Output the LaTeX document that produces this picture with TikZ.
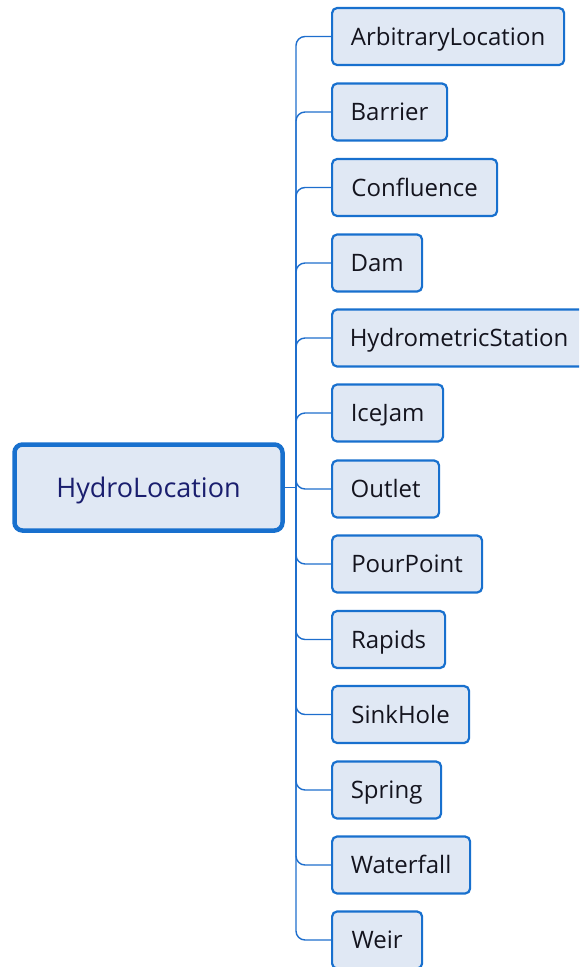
\documentclass[tikz,border=0pt]{standalone}
\usepackage{fontspec}
\setmainfont{Open Sans}
\definecolor{boxfill}{RGB}{224,232,244}
\definecolor{boxline}{RGB}{24,112,206}
\definecolor{linkline}{RGB}{30,110,205}
\definecolor{roottext}{RGB}{26,30,110}
\definecolor{leaftext}{RGB}{20,20,30}
\begin{document}
\begin{tikzpicture}[x=1pt,y=-1pt,
  rootbox/.style={draw=boxline, line width=4.5pt, fill=boxfill, rounded corners=8pt,
    minimum width=268pt, minimum height=86pt, inner sep=0pt,
    text height=19pt, text depth=0pt,
    font=\fontsize{27}{30}\selectfont, text=roottext},
  leafbox/.style={draw=boxline, line width=2.2pt, fill=boxfill, rounded corners=5pt,
    minimum height=57pt, inner sep=0pt, anchor=west,
    text height=17pt, text depth=0pt,
    font=\fontsize{24}{27}\selectfont, text=leaftext},
  link/.style={draw=linkline, line width=1.4pt, rounded corners=9pt}]
\useasboundingbox (0,0) rectangle (579,967);
\begin{scope}
\clip (0,0) rectangle (579,967);
\node[rootbox] (root) at (148.5,487.5) {HydroLocation};
\coordinate (hub) at (296,487.5);

\node[leafbox, minimum width=232pt] (n1)  at (331,36.5)  {ArbitraryLocation};
\node[leafbox, minimum width=115pt] (n2)  at (331,112)   {Barrier};
\node[leafbox, minimum width=165pt] (n3)  at (331,187.5) {Confluence};
\node[leafbox, minimum width=90pt]  (n4)  at (331,263)   {Dam};
\node[leafbox, minimum width=254pt] (n5)  at (331,338)   {HydrometricStation};
\node[leafbox, minimum width=111pt] (n6)  at (331,413)   {IceJam};
\node[leafbox, minimum width=107pt] (n7)  at (331,489)   {Outlet};
\node[leafbox, minimum width=150pt] (n8)  at (331,564)   {PourPoint};
\node[leafbox, minimum width=113pt] (n9)  at (331,639.5) {Rapids};
\node[leafbox, minimum width=137pt] (n10) at (331,714.5) {SinkHole};
\node[leafbox, minimum width=109pt] (n11) at (331,790)   {Spring};
\node[leafbox, minimum width=138pt] (n12) at (331,865)   {Waterfall};
\node[leafbox, minimum width=90pt]  (n13) at (331,940)   {Weir};

% root to the trunk
\draw[link] (root.east) -- (hub);
% trunk to each leaf, turning with rounded corners
\foreach \n in {n1,n2,n3,n4,n5,n6,n7,n8,n9,n10,n11,n12,n13}
  \draw[link] (hub) |- (\n.west);
\end{scope}
\end{tikzpicture}
\end{document}
